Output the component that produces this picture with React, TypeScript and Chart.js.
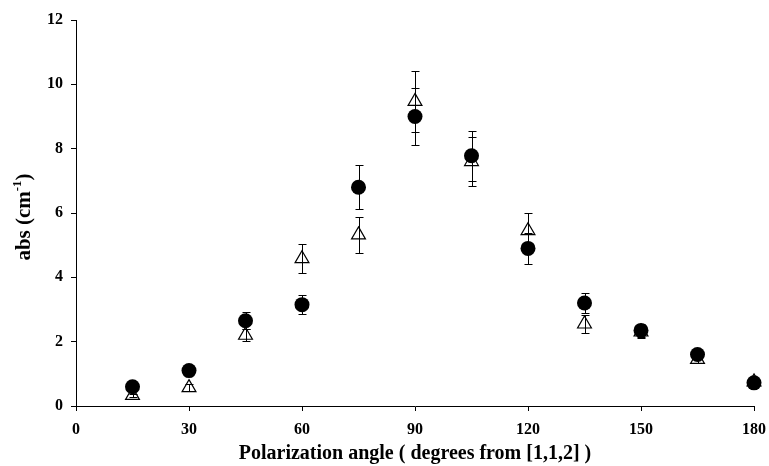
import React, { useEffect, useRef } from "react";
import { Chart, registerables } from "chart.js";

Chart.register(...registerables);

const angles = [15, 30, 45, 60, 75, 90, 105, 120, 135, 150, 165, 180];
const circleVals = [0.6, 1.1, 2.65, 3.15, 6.8, 9.0, 7.78, 4.9, 3.2, 2.35, 1.6, 0.72];
const circleErr = [0.08, 0.08, 0.26, 0.3, 0.68, 0.9, 0.77, 0.48, 0.31, 0.2, 0.15, 0.12];
const triVals = [0.33, 0.57, 2.2, 4.58, 5.32, 9.47, 7.6, 5.45, 2.55, 2.3, 1.45, 0.75];
const triErr = [0.05, 0.1, 0.18, 0.46, 0.55, 0.95, 0.75, 0.55, 0.28, 0.2, 0.12, 0.08];

const xTitle = "Polarization angle ( degrees from [1,1,2] )";
const yTitleMain = "abs (cm";
const yTitleSup = "-1";
const yTitleEnd = ")";

const FONT = "'Liberation Serif', 'Times New Roman', serif";

const errorBarPlugin = {
  id: "errorBars",
  afterDatasetsDraw(chart: any) {
    const { ctx } = chart;
    const xs = chart.scales.x;
    const ys = chart.scales.y;
    ctx.save();
    ctx.strokeStyle = "#000";
    ctx.lineWidth = 1;
    chart.data.datasets.forEach((ds: any) => {
      const errs: number[] = ds.errors || [];
      ds.data.forEach((pt: any, i: number) => {
        const e = errs[i];
        if (!e) return;
        const px = Math.round(xs.getPixelForValue(pt.x)) + 0.5;
        const top = Math.round(ys.getPixelForValue(pt.y + e)) + 0.5;
        const bot = Math.round(ys.getPixelForValue(pt.y - e)) + 0.5;
        ctx.beginPath();
        ctx.moveTo(px, top);
        ctx.lineTo(px, bot);
        ctx.moveTo(px - 4, top);
        ctx.lineTo(px + 4, top);
        ctx.moveTo(px - 4, bot);
        ctx.lineTo(px + 4, bot);
        ctx.stroke();
      });
    });
    ctx.restore();
  },
};

const yTitlePlugin = {
  id: "yTitle",
  afterDraw(chart: any) {
    const { ctx } = chart;
    const cy = 217;
    const cx = 25;
    ctx.save();
    ctx.translate(cx, cy);
    ctx.rotate(-Math.PI / 2);
    ctx.fillStyle = "#000";
    ctx.textBaseline = "middle";
    ctx.textAlign = "left";
    const mainFont = `bold 21px ${FONT}`;
    const supFont = `bold 13px ${FONT}`;
    ctx.font = mainFont;
    const w1 = ctx.measureText(yTitleMain).width;
    const w3 = ctx.measureText(yTitleEnd).width;
    ctx.font = supFont;
    const w2 = ctx.measureText(yTitleSup).width;
    const total = w1 + w2 + w3;
    let x = -total / 2;
    ctx.font = mainFont;
    ctx.fillText(yTitleMain, x, 0);
    x += w1;
    ctx.font = supFont;
    ctx.fillText(yTitleSup, x, -7);
    x += w2;
    ctx.font = mainFont;
    ctx.fillText(yTitleEnd, x, 0);
    ctx.restore();
  },
};

export default function App() {
  const ref = useRef<HTMLCanvasElement>(null);
  useEffect(() => {
    if (!ref.current) return;
    const chart = new Chart(ref.current, {
      type: "scatter",
      data: {
        datasets: [
          {
            label: "triangles",
            data: angles.map((a, i) => ({ x: a, y: triVals[i] })),
            errors: triErr,
            pointStyle: "triangle",
            pointRadius: 8,
            pointBackgroundColor: "rgba(0,0,0,0)",
            pointBorderColor: "#000",
            pointBorderWidth: 1.2,
            showLine: false,
            clip: false,
          } as any,
          {
            label: "circles",
            data: angles.map((a, i) => ({ x: a, y: circleVals[i] })),
            errors: circleErr,
            pointStyle: "circle",
            pointRadius: 7.5,
            pointBackgroundColor: "#000",
            pointBorderColor: "#000",
            pointBorderWidth: 0,
            showLine: false,
            clip: false,
          } as any,
        ],
      },
      options: {
        responsive: false,
        animation: false,
        events: [],
        layout: { padding: { left: 0, right: 15, top: 20, bottom: 0 } },
        plugins: {
          legend: { display: false },
          tooltip: { enabled: false },
        },
        scales: {
          x: {
            type: "linear",
            min: 0,
            max: 180,
            afterFit: (s: any) => {
              s.height = 60;
              s.paddingLeft = 0;
              s.paddingRight = 0;
            },
            ticks: {
              stepSize: 30,
              color: "#000",
              padding: 9,
              maxRotation: 0,
              font: { family: FONT, size: 16, weight: "bold" },
            },
            grid: {
              display: true,
              drawOnChartArea: false,
              drawTicks: true,
              tickLength: 5,
              tickColor: "#000",
            },
            border: { display: true, color: "#000", width: 1 },
            title: {
              display: true,
              text: xTitle,
              color: "#000",
              padding: { top: 0, bottom: 0 },
              font: { family: FONT, size: 20, weight: "bold" },
            },
          },
          y: {
            type: "linear",
            min: 0,
            max: 12,
            afterFit: (s: any) => {
              s.width = 76;
              s.paddingTop = 0;
              s.paddingBottom = 0;
            },
            ticks: {
              stepSize: 2,
              color: "#000",
              padding: 8,
              font: { family: FONT, size: 16, weight: "bold" },
            },
            grid: {
              display: true,
              drawOnChartArea: false,
              drawTicks: true,
              tickLength: 5,
              tickColor: "#000",
            },
            border: { display: true, color: "#000", width: 1 },
            title: { display: false },
          },
        },
      } as any,
      plugins: [errorBarPlugin, yTitlePlugin],
    });
    return () => chart.destroy();
  }, []);
  return (
    <div style={{ position: "absolute", left: 0, top: 0, width: 769, height: 466, background: "#fff" }}>
      <canvas ref={ref} width={769} height={466} />
    </div>
  );
}
